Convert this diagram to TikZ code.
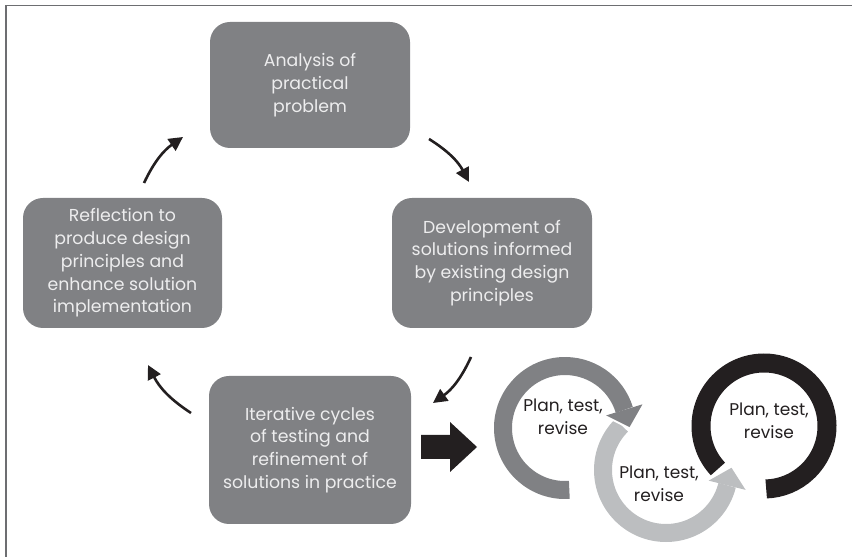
\documentclass[tikz,border=0pt]{standalone}
\usepackage{fontspec}
\setmainfont{Poppins}
\usetikzlibrary{arrows.meta,calc}
\definecolor{boxgray}{HTML}{808184}
\definecolor{lightring}{HTML}{BCBEC0}
\definecolor{darkink}{HTML}{231F20}
\definecolor{framegray}{HTML}{6D6E71}
\definecolor{boxtext}{HTML}{EDEDEE}
\begin{document}
\begin{tikzpicture}[x=1pt,y=1pt,
  stage/.style={rectangle, rounded corners=20pt, fill=boxgray, text=boxtext, align=center, inner sep=0pt, font=\fontsize{17.3}{22.8}\selectfont},
  loopnote/.style={text=darkink, align=center, inner sep=0pt, font=\fontsize{17}{22.5}\selectfont},
  cyclearrow/.style={-{Triangle[length=14pt,width=14pt]}, line width=2.6pt, draw=darkink},
  ring/.style={line width=18pt, line cap=butt},
  headgap/.style={draw=white, line width=4pt, line join=miter}]
\useasboundingbox (0,0) rectangle (852,557);
% frame
\draw[framegray, line width=1.3pt] (6,0) -- (6,551.5) -- (852,551.5);
% stage boxes
\node[stage, minimum width=200pt, minimum height=126pt] (anal) at (310,472) {Analysis of\\practical\\problem};
\node[stage, minimum width=200pt, minimum height=130pt] (dev) at (492,294) {Development of\\solutions informed\\by existing design\\principles};
\node[stage, minimum width=199pt, minimum height=130pt] (refl) at (122.5,294) {Reflection to\\produce design\\principles and\\enhance solution\\implementation};
\node[stage, minimum width=202pt, minimum height=148pt] (iter) at (310,107) {Iterative cycles\\of testing and\\refinement of\\solutions in practice};
% cycle arrows
\coordinate (a1s) at (144,374); \coordinate (a1e) at (183,420);
\coordinate (a2s) at (429,418); \coordinate (a2e) at (469,375);
\coordinate (a3s) at (471,200); \coordinate (a3e) at (433,154);
\coordinate (a4s) at (191,144); \coordinate (a4e) at (148,192);
\draw[cyclearrow] (a1s) to[bend left=15] (a1e);
\draw[cyclearrow] (a2s) to[bend left=15] (a2e);
\draw[cyclearrow] (a3s) to[bend left=15] (a3e);
\draw[cyclearrow] (a4s) to[bend left=15] (a4e);
% block arrow
\fill[darkink] (421,122) -- (450,122) -- (450,135) -- (477,110) -- (450,85) -- (450,98) -- (421,98) -- cycle;
% rings
\coordinate (c1) at (565,129);
\coordinate (c2) at (666,87);
\coordinate (c3) at (764,131);
\draw[ring, lightring] ($(c2)+(135:63)$) arc[start angle=135, end angle=346, radius=63];
\draw[headgap] ($(c1)+(17:43)$) -- ($(c1)+(17:62)+(-73:18)$) -- ($(c1)+(17:81)$);
\draw[ring, boxgray] ($(c1)+(274:62)$) arc[start angle=274, end angle=17, radius=62];
\fill[boxgray] ($(c1)+(17:43)$) -- ($(c1)+(17:62)+(-73:18)$) -- ($(c1)+(17:81)$) -- cycle;
\draw[ring, darkink, line width=19pt] ($(c3)+(223:63)$) arc[start angle=223, end angle=-88, radius=63];
\draw[headgap] ($(c2)+(346:44)$) -- ($(c2)+(346:63)+(76:18)$) -- ($(c2)+(346:82)$);
\fill[lightring] ($(c2)+(346:44)$) -- ($(c2)+(346:63)+(76:18)$) -- ($(c2)+(346:82)$) -- cycle;
% ring texts
\node[loopnote] (t1) at (563,140) {Plan, test,\\revise};
\node[loopnote] (t2) at (659,73) {Plan, test,\\revise};
\node[loopnote] (t3) at (769,136) {Plan, test,\\revise};
\end{tikzpicture}
\end{document}
